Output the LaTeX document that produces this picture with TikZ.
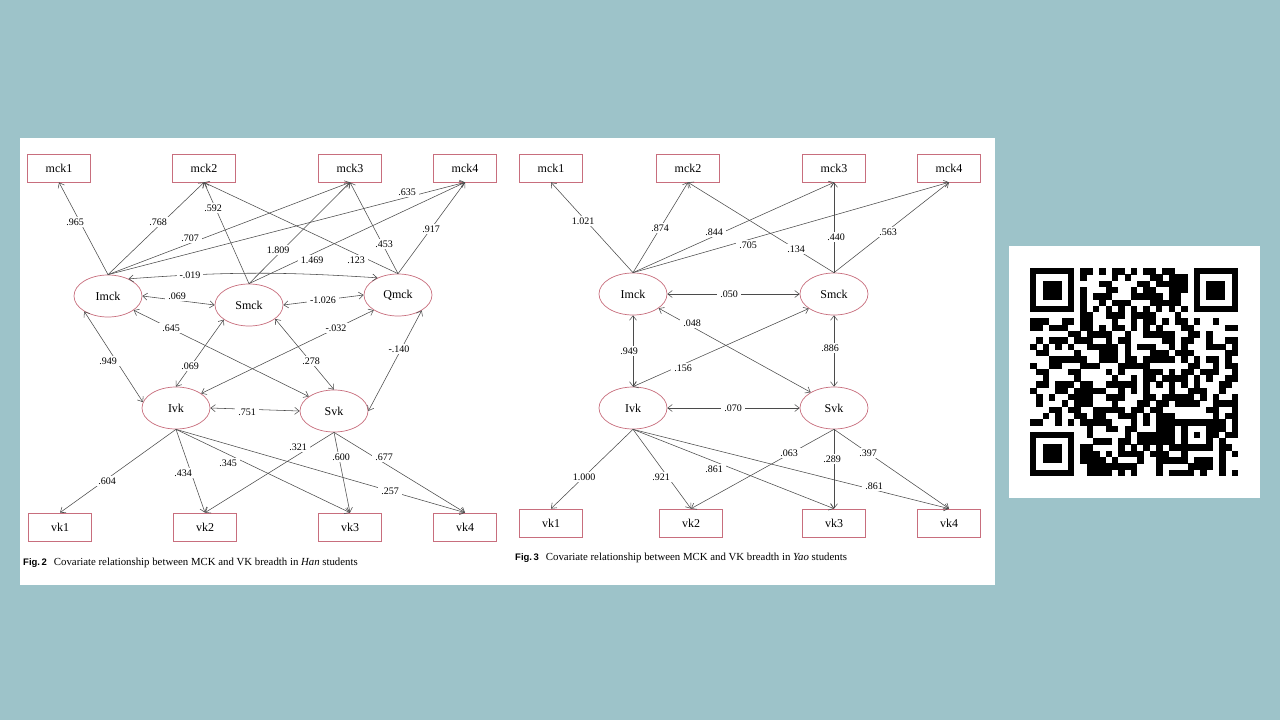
\documentclass[tikz,border=0pt]{standalone}
\usepackage{fontspec}
\setmainfont{Liberation Serif}
\newfontfamily\capsans{Liberation Sans}
\usetikzlibrary{shapes.geometric,arrows.meta}
\definecolor{bg}{RGB}{157,195,201}
\definecolor{nodeline}{RGB}{200,110,125}
\definecolor{edgecol}{RGB}{75,75,75}
\tikzset{
  box/.style={draw=nodeline, line width=0.7pt, minimum width=63pt, minimum height=28pt, inner sep=0pt, font=\fontsize{12}{13}\selectfont},
  lat/.style={ellipse, draw=nodeline, line width=0.7pt, minimum width=68pt, minimum height=42pt, inner sep=0pt, font=\fontsize{12}{13}\selectfont},
  tip/.tip={Straight Barb[length=4.5pt,width=7pt]},
  lnk/.style={draw=edgecol, line width=0.55pt, -tip},
  cov/.style={draw=edgecol, line width=0.55pt, tip-tip},
  lbl/.style={fill=white, inner xsep=3pt, inner ysep=1.5pt, font=\fontsize{10}{11}\selectfont},
  capt/.style={anchor=west, inner sep=0pt, font=\fontsize{10.8}{12}\selectfont}
}
\begin{document}
\begin{tikzpicture}[x=1pt,y=-1pt]
\fill[bg] (0,0) rectangle (1280,720);
\useasboundingbox (0,0) rectangle (1280,720);
\fill[white] (20,138) rectangle (995,585);
\fill[white] (1009,246) rectangle (1260,498);

% ===== Left diagram (Han) =====
\node[box] (Lm1) at (59,168) {mck1};
\node[box] (Lm2) at (204,168) {mck2};
\node[box] (Lm3) at (350,168) {mck3};
\node[box] (Lm4) at (465,168) {mck4};
\node[lat] (Li) at (108,296) {Imck};
\node[lat] (Ls) at (249,305) {Smck};
\node[lat] (Lq) at (398,295) {Qmck};
\node[lat] (Liv) at (176,408) {Ivk};
\node[lat] (Lsv) at (334,411) {Svk};
\node[box] (Lv1) at (60,527) {vk1};
\node[box] (Lv2) at (205,527) {vk2};
\node[box] (Lv3) at (350,527) {vk3};
\node[box] (Lv4) at (465,527) {vk4};

\draw[lnk] (Li.north) -- (Lm1.south);
\draw[lnk] (Li.north) -- (Lm2.south);
\draw[lnk] (Li.north) -- (Lm3.south);
\draw[lnk] (Li.north) -- (Lm4.south);
\draw[lnk] (Ls.north) -- (Lm2.south);
\draw[lnk] (Ls.north) -- (Lm3.south);
\draw[lnk] (Ls.north) -- (Lm4.south);
\draw[lnk] (Lq.north) -- (Lm2.south);
\draw[lnk] (Lq.north) -- (Lm3.south);
\draw[lnk] (Lq.north) -- (Lm4.south);
\draw[cov] (Li.40) to[bend left=4] (Lq.140);
\draw[cov] (Li.east) -- (Ls.west);
\draw[cov] (Ls.east) -- (Lq.west);
\draw[cov] (Li.213) -- (Liv.170);
\draw[cov] (Liv.north) -- (Ls.210);
\draw[cov] (Liv.30) -- (Lq.212);
\draw[cov] (Li.331) -- (Lsv.150);
\draw[cov] (Ls.332) -- (Lsv.north);
\draw[cov] (Lq.327) -- (Lsv.east);
\draw[cov] (Liv.east) -- (Lsv.west);
\draw[lnk] (Liv.south) -- (Lv1.north);
\draw[lnk] (Liv.south) -- (Lv2.north);
\draw[lnk] (Liv.south) -- (Lv3.north);
\draw[lnk] (Liv.south) -- (Lv4.north);
\draw[lnk] (Lsv.south) -- (Lv2.north);
\draw[lnk] (Lsv.south) -- (Lv3.north);
\draw[lnk] (Lsv.south) -- (Lv4.north);

\node[lbl] (La1) at (75,222) {.965};
\node[lbl] (La2) at (158,222) {.768};
\node[lbl] (La3) at (190,238) {.707};
\node[lbl] (La4) at (213,208) {.592};
\node[lbl] (La5) at (190,275) {-.019};
\node[lbl] (La6) at (177,296) {.069};
\node[lbl] (La7) at (278,250) {1.809};
\node[lbl] (La8) at (312,260) {1.469};
\node[lbl] (La9) at (356,260) {.123};
\node[lbl] (La10) at (384,244) {.453};
\node[lbl] (La11) at (431,229) {.917};
\node[lbl] (La12) at (407,192) {.635};
\node[lbl] (La13) at (323,300) {-1.026};
\node[lbl] (La14) at (171,328) {.645};
\node[lbl] (La15) at (108,361) {.949};
\node[lbl] (La16) at (190,366) {.069};
\node[lbl] (La17) at (247,412) {.751};
\node[lbl] (La18) at (336,328) {-.032};
\node[lbl] (La19) at (311,361) {.278};
\node[lbl] (La20) at (399,349) {-.140};
\node[lbl] (La21) at (298,447) {.321};
\node[lbl] (La22) at (107,481) {.604};
\node[lbl] (La23) at (183,473) {.434};
\node[lbl] (La24) at (228,463) {.345};
\node[lbl] (La25) at (341,457) {.600};
\node[lbl] (La26) at (384,457) {.677};
\node[lbl] (La27) at (390,491) {.257};

\node[capt] (Lcap) at (23,563) {{\capsans\bfseries\fontsize{9.5}{11}\selectfont Fig.\,2}\hspace{7pt}Covariate relationship between MCK and VK breadth in \textit{Han} students};

% ===== Right diagram (Yao) =====
\node[box] (Rm1) at (551,168) {mck1};
\node[box] (Rm2) at (688,168) {mck2};
\node[box] (Rm3) at (834,168) {mck3};
\node[box] (Rm4) at (949,168) {mck4};
\node[lat] (Ri) at (633,294) {Imck};
\node[lat] (Rs) at (834,294) {Smck};
\node[lat] (Riv) at (633,408) {Ivk};
\node[lat] (Rsv) at (834,408) {Svk};
\node[box] (Rv1) at (551,523) {vk1};
\node[box] (Rv2) at (691,523) {vk2};
\node[box] (Rv3) at (834,523) {vk3};
\node[box] (Rv4) at (949,523) {vk4};

\draw[lnk] (Ri.north) -- (Rm1.south);
\draw[lnk] (Ri.north) -- (Rm2.south);
\draw[lnk] (Ri.north) -- (Rm3.south);
\draw[lnk] (Ri.north) -- (Rm4.south);
\draw[lnk] (Rs.north) -- (Rm2.south);
\draw[lnk] (Rs.north) -- (Rm3.south);
\draw[lnk] (Rs.north) -- (Rm4.south);
\draw[cov] (Ri.east) -- (Rs.west);
\draw[cov] (Ri.331) -- (Rsv.146);
\draw[cov] (Ri.south) -- (Riv.north);
\draw[cov] (Riv.north) -- (Rs.210);
\draw[cov] (Rs.south) -- (Rsv.north);
\draw[cov] (Riv.east) -- (Rsv.west);
\draw[lnk] (Riv.south) -- (Rv1.north);
\draw[lnk] (Riv.south) -- (Rv2.north);
\draw[lnk] (Riv.south) -- (Rv3.north);
\draw[lnk] (Riv.south) -- (Rv4.north);
\draw[lnk] (Rsv.south) -- (Rv2.north);
\draw[lnk] (Rsv.south) -- (Rv3.north);
\draw[lnk] (Rsv.south) -- (Rv4.north);

\node[lbl] (Ra1) at (583,221) {1.021};
\node[lbl] (Ra2) at (660,228) {.874};
\node[lbl] (Ra3) at (714,232) {.844};
\node[lbl] (Ra4) at (748,245) {.705};
\node[lbl] (Ra5) at (729,294) {.050};
\node[lbl] (Ra6) at (796,249) {.134};
\node[lbl] (Ra7) at (836,237) {.440};
\node[lbl] (Ra8) at (888,232) {.563};
\node[lbl] (Ra9) at (692,323) {.048};
\node[lbl] (Ra10) at (629,351) {.949};
\node[lbl] (Ra11) at (683,368) {.156};
\node[lbl] (Ra12) at (830,348) {.886};
\node[lbl] (Ra13) at (733,408) {.070};
\node[lbl] (Ra14) at (584,477) {1.000};
\node[lbl] (Ra15) at (661,477) {.921};
\node[lbl] (Ra16) at (714,469) {.861};
\node[lbl] (Ra17) at (789,453) {.063};
\node[lbl] (Ra18) at (832,459) {.289};
\node[lbl] (Ra19) at (868,453) {.397};
\node[lbl] (Ra20) at (874,486) {.861};

\node[capt] (Rcap) at (515,558) {{\capsans\bfseries\fontsize{9.5}{11}\selectfont Fig.\,3}\hspace{7pt}Covariate relationship between MCK and VK breadth in \textit{Yao} students};

% ===== QR code =====
\def\qx{1030}\def\qy{268}\def\qm{6.3}
\pgfmathsetseed{20}
\foreach \i in {0,...,32}{
  \foreach \j in {0,...,32}{
    \pgfmathtruncatemacro{\skipit}{((\i<8)&&(\j<8))||((\i>24)&&(\j<8))||((\i<8)&&(\j>24))||((\i>23)&&(\i<29)&&(\j>23)&&(\j<29))||(\i==6)||(\j==6)}
    \pgfmathtruncatemacro{\on}{rnd<0.52}
    \ifnum\skipit=0 \ifnum\on=1
      \fill[black] ({\qx+\i*\qm},{\qy+\j*\qm}) rectangle ++(\qm+0.2,\qm+0.2);
    \fi\fi
  }
}
\foreach \k in {8,10,...,24}{
  \fill[black] ({\qx+\k*\qm},{\qy+6*\qm}) rectangle ++(\qm,\qm);
  \fill[black] ({\qx+6*\qm},{\qy+\k*\qm}) rectangle ++(\qm,\qm);
}
\foreach \a/\b in {0/0,26/0,0/26}{
  \fill[black] ({\qx+\a*\qm},{\qy+\b*\qm}) rectangle ++(7*\qm,7*\qm);
  \fill[white] ({\qx+(\a+1)*\qm},{\qy+(\b+1)*\qm}) rectangle ++(5*\qm,5*\qm);
  \fill[black] ({\qx+(\a+2)*\qm},{\qy+(\b+2)*\qm}) rectangle ++(3*\qm,3*\qm);
}
\fill[black] ({\qx+24*\qm},{\qy+24*\qm}) rectangle ++(5*\qm,5*\qm);
\fill[white] ({\qx+25*\qm},{\qy+25*\qm}) rectangle ++(3*\qm,3*\qm);
\fill[black] ({\qx+26*\qm},{\qy+26*\qm}) rectangle ++(\qm,\qm);
\end{tikzpicture}
\end{document}
